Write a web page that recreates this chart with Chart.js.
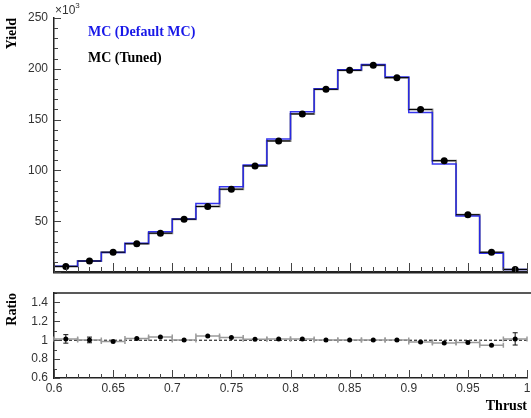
<!DOCTYPE html>
<html>
<head>
<meta charset="utf-8">
<script src="https://cdn.jsdelivr.net/npm/chart.js@4.4.1/dist/chart.umd.min.js"></script>
<style>
  body { margin: 0; background: #fff; }
  #wrap { position: relative; width: 531px; height: 418px; overflow: hidden; background: #fff; }
  #top { position: absolute; left: 0; top: 0; }
  #bot { position: absolute; left: 0; top: 280px; }
</style>
</head>
<body>
<div id="wrap">
  <canvas id="top" width="531" height="285"></canvas>
  <canvas id="bot" width="531" height="138"></canvas>
</div>

<script type="text/javascript">

// bins of Thrust, 0.02 wide
const binEdges = [0.60, 0.62, 0.64, 0.66, 0.68, 0.70, 0.72, 0.74, 0.76, 0.78, 0.80,
                  0.82, 0.84, 0.86, 0.88, 0.90, 0.92, 0.94, 0.96, 0.98, 1.00];
const binCenters = [0.61, 0.63, 0.65, 0.67, 0.69, 0.71, 0.73, 0.75, 0.77, 0.79,
                    0.81, 0.83, 0.85, 0.87, 0.89, 0.91, 0.93, 0.95, 0.97, 0.99];

// yields in units of 10^3
const tunedYield   = [5.5, 10.8, 19.5, 27.8, 38.2, 52.0, 64.5, 81.5, 104.4, 129.0,
                      155.6, 179.8, 198.5, 203.6, 191.3, 160.0, 109.6, 56.4, 19.4, 2.5];
const defaultYield = [5.6, 10.8, 19.2, 28.3, 39.5, 52.2, 67.5, 83.9, 105.4, 130.8,
                      157.8, 180.3, 199.1, 204.2, 191.9, 157.1, 106.4, 55.0, 18.4, 2.5];

const ratioVals = [1.014, 1.003, 0.986, 1.018, 1.035, 1.003, 1.046, 1.029, 1.010, 1.014,
                   1.014, 1.003, 1.003, 1.003, 1.003, 0.982, 0.971, 0.975, 0.947, 1.014];
const ratioErr  = [0.045, 0.030, 0.015, 0.010, 0.008, 0.007, 0.006, 0.006, 0.005, 0.005,
                   0.005, 0.005, 0.005, 0.005, 0.005, 0.005, 0.006, 0.008, 0.015, 0.065];

const yieldTicks  = [50, 100, 150, 200, 250];
const ratioTicks  = [0.6, 0.8, 1, 1.2, 1.4];
const thrustTicks = [0.6, 0.65, 0.7, 0.75, 0.8, 0.85, 0.9, 0.95, 1];

const halfBin = 0.01;

const tickFont  = { family: 'Liberation Sans', size: 12 };
const titleFont = { family: 'Liberation Serif', size: 14, weight: 'bold' };

function stepPoints(vals) {
  return binEdges.map((e, i) => ({ x: e, y: vals[Math.min(i, vals.length - 1)] }));
}

function fmt(v) { return String(Math.round(v * 1000) / 1000); }

// ROOT-like tick marks drawn inside the frame
function drawInnerTicks(chart, axis, lo, hi, step, major, majorLen, minorLen) {
  const ctx = chart.ctx, a = chart.chartArea, s = chart.scales[axis];
  ctx.save();
  ctx.strokeStyle = '#444';
  ctx.lineWidth = 1;
  const n = Math.round((hi - lo) / step);
  for (let i = 0; i <= n; i++) {
    const v = lo + i * step;
    const isMajor = Math.abs(v / major - Math.round(v / major)) < 1e-6;
    const len = isMajor ? majorLen : minorLen;
    const p = Math.round(s.getPixelForValue(v)) + 0.5;
    ctx.beginPath();
    if (s.isHorizontal()) { ctx.moveTo(p, a.bottom); ctx.lineTo(p, a.bottom - len); }
    else { ctx.moveTo(a.left, p); ctx.lineTo(a.left + len, p); }
    ctx.stroke();
  }
  ctx.restore();
}

const topDecor = {
  id: 'topDecor',
  beforeDatasetDraw(chart, args) {
    if (args.index !== 0) return;
    // horizontal bin-width bars under the tuned points
    const ctx = chart.ctx, x = chart.scales.x, y = chart.scales.y;
    ctx.save();
    ctx.strokeStyle = '#000';
    ctx.lineWidth = 1;
    binCenters.forEach((c, i) => {
      const py = y.getPixelForValue(tunedYield[i]);
      ctx.beginPath();
      ctx.moveTo(x.getPixelForValue(c - halfBin), py);
      ctx.lineTo(x.getPixelForValue(c + halfBin), py);
      ctx.stroke();
    });
    ctx.restore();
  },
  afterDraw(chart) {
    drawInnerTicks(chart, 'y', 0, 250, 10, 50, 7, 4);
    drawInnerTicks(chart, 'x', 0.6, 1.0, 0.01, 0.05, 9, 5);
    const ctx = chart.ctx;
    ctx.save();
    ctx.fillStyle = '#333';
    ctx.font = '12px "Liberation Sans"';
    ctx.textBaseline = 'alphabetic';
    ctx.fillText('\u00d710', 55, 14);
    const w = ctx.measureText('\u00d710').width;
    ctx.font = '8px "Liberation Sans"';
    ctx.fillText('3', 55 + w, 8);
    ctx.font = 'bold 14px "Liberation Serif"';
    ctx.textBaseline = 'middle';
    ctx.fillStyle = '#1818e8';
    ctx.fillText('MC (Default MC)', 88, 32);
    ctx.fillStyle = '#000';
    ctx.fillText('MC (Tuned)', 88, 58);
    ctx.restore();
  }
};

const botDecor = {
  id: 'botDecor',
  beforeDatasetDraw(chart, args) {
    if (args.index !== 0) return;
    const ctx = chart.ctx, x = chart.scales.x, y = chart.scales.y;
    ctx.save();
    // grey bin-width bars with end caps
    ctx.strokeStyle = '#9a9a9a';
    ctx.lineWidth = 1.5;
    binCenters.forEach((c, i) => {
      const py = y.getPixelForValue(ratioVals[i]);
      const x1 = x.getPixelForValue(c - halfBin), x2 = x.getPixelForValue(c + halfBin);
      ctx.beginPath();
      ctx.moveTo(x1, py); ctx.lineTo(x2, py);
      ctx.moveTo(x1, py - 2.5); ctx.lineTo(x1, py + 2.5);
      ctx.moveTo(x2, py - 2.5); ctx.lineTo(x2, py + 2.5);
      ctx.stroke();
    });
    // vertical error bars
    ctx.strokeStyle = '#111';
    ctx.lineWidth = 1;
    binCenters.forEach((c, i) => {
      const px = x.getPixelForValue(c);
      const y1 = y.getPixelForValue(ratioVals[i] - ratioErr[i]);
      const y2 = y.getPixelForValue(ratioVals[i] + ratioErr[i]);
      ctx.beginPath();
      ctx.moveTo(px, y1); ctx.lineTo(px, y2);
      if (y1 - y2 > 4) {
        ctx.moveTo(px - 2.5, y1); ctx.lineTo(px + 2.5, y1);
        ctx.moveTo(px - 2.5, y2); ctx.lineTo(px + 2.5, y2);
      }
      ctx.stroke();
    });
    ctx.restore();
  },
  afterDraw(chart) {
    drawInnerTicks(chart, 'y', 0.6, 1.5, 0.1, 0.2, 6, 3);
    drawInnerTicks(chart, 'x', 0.6, 1.0, 0.01, 0.05, 8, 4);
    const ctx = chart.ctx, a = chart.chartArea;
    ctx.save();
    ctx.strokeStyle = '#222';
    ctx.lineWidth = 1.5;
    ctx.beginPath();
    ctx.moveTo(a.left, a.top); ctx.lineTo(chart.width, a.top);
    ctx.stroke();
    ctx.restore();
  }
};

function noPad(s) { s.paddingLeft = 0; s.paddingRight = 0; s.paddingTop = 0; s.paddingBottom = 0; }

new Chart(document.getElementById('top'), {
  type: 'line',
  data: {
    datasets: [
      { label: 'Tuned points', data: binCenters.map((c, i) => ({ x: c, y: tunedYield[i] })),
        showLine: false, pointRadius: 3.5, pointBackgroundColor: '#000', pointBorderWidth: 0 },
      { label: 'MC (Default MC)', data: stepPoints(defaultYield), stepped: true,
        borderColor: 'rgba(30,30,235,0.9)', borderWidth: 1.5, pointRadius: 0, fill: false },
      { label: 'MC (Tuned)', data: stepPoints(tunedYield), stepped: true,
        borderColor: '#8c8c8c', borderWidth: 2, pointRadius: 0, fill: false }
    ]
  },
  options: {
    responsive: false,
    animation: false,
    events: [],
    layout: { padding: { top: 18, right: 1, bottom: 13, left: 0 } },
    plugins: { legend: { display: false }, tooltip: { enabled: false } },
    scales: {
      x: {
        type: 'linear', min: 0.6, max: 1.0,
        grid: { display: false, drawTicks: false },
        ticks: { display: false },
        border: { color: '#222', width: 2.5 },
        afterFit: s => { s.height = 0; noPad(s); }
      },
      y: {
        min: 0, max: 250,
        afterBuildTicks: s => { s.ticks = yieldTicks.map(v => ({ value: v })); },
        grid: { display: false, drawTicks: false },
        border: { color: '#222', width: 1.5 },
        ticks: { font: tickFont, color: '#333', padding: 6, callback: fmt },
        title: { display: true, text: 'Yield', align: 'end', font: titleFont, color: '#000',
                 padding: { top: 4, bottom: 0 } },
        afterFit: s => { s.width = 54; noPad(s); }
      }
    }
  },
  plugins: [topDecor]
});

new Chart(document.getElementById('bot'), {
  type: 'line',
  data: {
    datasets: [
      { label: 'Ratio', data: binCenters.map((c, i) => ({ x: c, y: ratioVals[i] })),
        showLine: false, pointRadius: 2.5, pointBackgroundColor: '#000', pointBorderWidth: 0 },
      { label: 'unity', data: [{ x: 0.6, y: 1 }, { x: 1.0, y: 1 }],
        borderColor: '#000', borderWidth: 1, borderDash: [3, 2], pointRadius: 0, fill: false }
    ]
  },
  options: {
    responsive: false,
    animation: false,
    events: [],
    layout: { padding: { top: 13, right: 1, bottom: 0, left: 0 } },
    plugins: { legend: { display: false }, tooltip: { enabled: false } },
    scales: {
      x: {
        type: 'linear', min: 0.6, max: 1.0,
        afterBuildTicks: s => { s.ticks = thrustTicks.map(v => ({ value: v })); },
        grid: { display: false, drawTicks: false },
        border: { color: '#222', width: 1.5 },
        ticks: { font: tickFont, color: '#333', padding: 3, maxRotation: 0, autoSkip: false, callback: fmt },
        title: { display: true, text: 'Thrust', align: 'end', font: titleFont, color: '#000',
                 padding: { top: 0, bottom: 3 } },
        afterFit: s => { s.height = 40; noPad(s); }
      },
      y: {
        min: 0.6, max: 1.5,
        afterBuildTicks: s => { s.ticks = ratioTicks.map(v => ({ value: v })); },
        grid: { display: false, drawTicks: false },
        border: { color: '#222', width: 1.5 },
        ticks: { font: tickFont, color: '#333', padding: 6, callback: fmt },
        title: { display: true, text: 'Ratio', align: 'end', font: titleFont, color: '#000',
                 padding: { top: 4, bottom: 0 } },
        afterFit: s => { s.width = 54; noPad(s); }
      }
    }
  },
  plugins: [botDecor]
});
</script>
</body>
</html>
